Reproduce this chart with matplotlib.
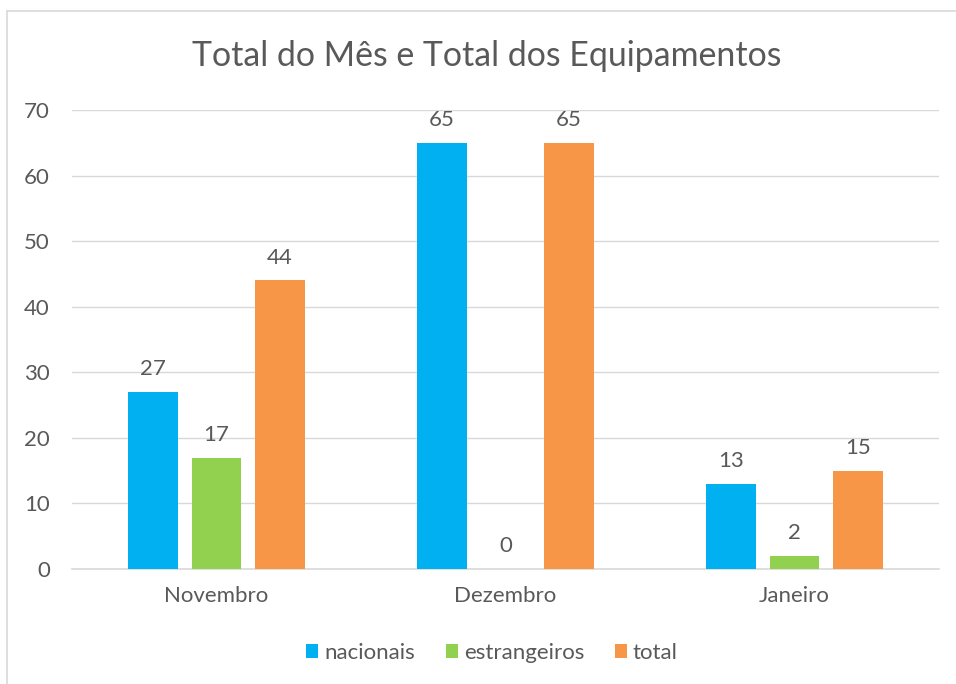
import numpy as np
import matplotlib.pyplot as plt
from matplotlib.lines import Line2D

plt.rcParams['font.family'] = ['Lato', 'DejaVu Sans']

# data
months = ['Novembro', 'Dezembro', 'Janeiro']
nacionais = [27, 65, 13]
estrangeiros = [17, 0, 2]
total = [44, 65, 15]

series = [('nacionais', nacionais, '#00B0F0'),
          ('estrangeiros', estrangeiros, '#92D050'),
          ('total', total, '#F79646')]

txt = '#595959'

fig = plt.figure(figsize=(9.56, 6.84), dpi=100)
ax = fig.add_axes([72/956, 1 - 569/684, 867/956, (569 - 110)/684])

x = np.arange(len(months))
w = 0.172
off = 0.22
for i, (name, vals, col) in enumerate(series):
    pos = x + (i - 1) * off
    bars = ax.bar(pos, vals, width=w, color=col, label=name, zorder=3)
    for b, v in zip(bars, vals):
        ax.annotate(str(v), (b.get_x() + b.get_width() / 2, v),
                    xytext=(0, 9), textcoords='offset points',
                    ha='center', va='bottom', fontsize=16, color=txt)

ax.set_xlim(-0.5, 2.5)
ax.set_ylim(0, 70)
ax.set_yticks(range(0, 71, 10))
ax.set_xticks(x)
ax.set_xticklabels(months)
ax.tick_params(length=0, labelsize=16, colors=txt)
ax.tick_params(axis='y', pad=16)
ax.tick_params(axis='x', pad=12)
ax.grid(axis='y', color='#D9D9D9', linewidth=1, zorder=0)
for s in ['top', 'right', 'left']:
    ax.spines[s].set_visible(False)
ax.spines['bottom'].set_color('#D9D9D9')
ax.spines['bottom'].set_linewidth(1.2)

fig.text(487/956, 1 - 56/684, 'Total do Mês e Total dos Equipamentos',
         ha='center', va='center', fontsize=24.4, color=txt)

fig.legend(loc='center', bbox_to_anchor=(492/956, 1 - 653/684), ncol=3,
           frameon=False, fontsize=16, labelcolor=txt, handlelength=0.55,
           handleheight=0.55, handletextpad=0.25, columnspacing=1.4)

# chart border (top and left visible)
fig.add_artist(Line2D([7/956, 7/956], [0, 1 - 11/684], color='#D9D9D9', lw=1.2))
fig.add_artist(Line2D([7/956, 1], [1 - 11/684, 1 - 11/684], color='#D9D9D9', lw=1.2))

fig.savefig('out.png', dpi=100)
